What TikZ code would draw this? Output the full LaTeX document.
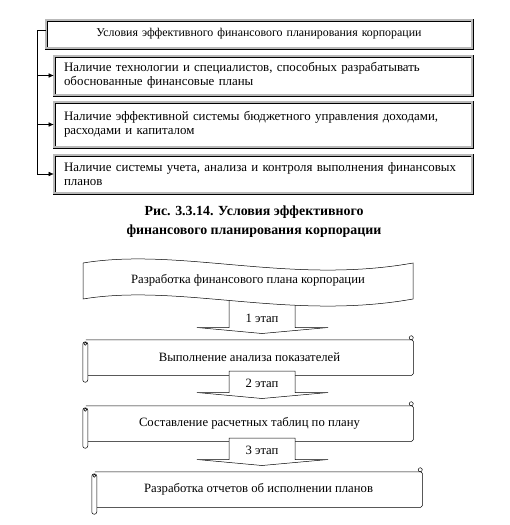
\documentclass[tikz,border=0pt]{standalone}
\usepackage{fontspec}
\setmainfont{Liberation Serif}
\usetikzlibrary{arrows.meta,calc}

% Scroll outline round a named node.
\newcommand{\DrawScroll}[1]{%
  \draw[rounded corners=1.5] (#1.north west) -- (#1.north east) -- (#1.south east) -- (#1.south west);
  \draw ($(#1.north east)+(-2,-2)$) circle (2);
  \draw[fill=white,rounded corners=2.4] ($(#1.north west)+(-3,2)$) rectangle ($(#1.south west)+(2,7)$);
  \draw ($(#1.north west)+(-0.5,4)$) circle (1.5);
}
% Block arrow under a stage label.
\newcommand{\DrawStage}[3]{%
  \draw[fill=white] ($(#1)+(-33,#2)$) -- ($(#1)+(-33,#3)$) -- ($(#1)+(-65,#3)$) -- ($(#1)+(0,#3+6)$)
    -- ($(#1)+(66,#3)$) -- ($(#1)+(33,#3)$) -- ($(#1)+(33,#2)$) -- cycle;
}

\begin{document}
\begin{tikzpicture}[x=1pt,y=-1pt,line width=0.5pt,
  condbox/.style={draw=black,line width=0.6pt,double=gray!55,double distance=1.8pt,fill=white,
    minimum width=418,text width=398,inner xsep=10,align=left,font=\fontsize{12.9}{14.5}\selectfont},
  headbox/.style={condbox,minimum width=426,minimum height=28,text width=406,align=center,
    font=\fontsize{11.9}{14}\selectfont},
  stagebox/.style={inner sep=0,minimum width=327,minimum height=35},
  stagetext/.style={font=\fontsize{12.7}{14}\selectfont}]
\useasboundingbox (0,0) rectangle (509,525);

% Conditions of planning.
\node[headbox] (head) at (259,34) {Условия эффективного финансового планирования корпорации};
\node[condbox,minimum height=39] (c1) at (263,75.5) {Наличие технологии и специалистов, способных разрабатывать\\обоснованные финансовые планы};
\node[condbox,minimum height=45] (c2) at (263,124.5) {Наличие эффективной системы бюджетного управления доходами,\\расходами и капиталом};
\node[condbox,minimum height=38] (c3) at (263,174) {Наличие системы учета, анализа и контроля выполнения финансовых\\планов};

\coordinate (spine) at (37,30);
\draw (head.west |- spine) -- (spine) -- (spine |- c3.west);
\foreach \c in {c1,c2,c3}
  \draw[-{Latex[length=5,width=4.5]}] (spine |- \c.west) -- (\c.west);

\node[font=\bfseries\fontsize{13.9}{19}\selectfont,align=center] (cap) at (254,222)
  {Рис. 3.3.14. Условия эффективного\\финансового планирования корпорации};

% Stages of the plan.
\coordinate (e1) at (262,318);
\DrawStage{e1}{-25}{9.5}

\draw[fill=white] (83,263) .. controls (180,247) and (290,285) .. (413,263) -- (413,299)
  .. controls (290,321) and (180,283) .. (83,299) -- cycle;
\node[stagetext] (b0) at (248,280) {Разработка финансового плана корпорации};
\node[stagetext] (t1) at (e1) {1 этап};

\node[stagebox] (s1) at (249.5,357.5) {};
\DrawScroll{s1}
\node[stagetext] at (s1) {Выполнение анализа показателей};

\coordinate (e2) at (262,383);
\DrawStage{e2}{-12}{9.5}
\node[stagetext] (t2) at (e2) {2 этап};

\node[stagebox] (s2) at (249.5,423.5) {};
\DrawScroll{s2}
\node[stagetext] at (s2) {Составление расчетных таблиц по плану};

\coordinate (e3) at (262,450);
\DrawStage{e3}{-12}{9.5}
\node[stagetext] (t3) at (e3) {3 этап};

\node[stagebox] (s3) at (258.5,489.5) {};
\DrawScroll{s3}
\node[stagetext] at (s3) {Разработка отчетов об исполнении планов};

\end{tikzpicture}
\end{document}
